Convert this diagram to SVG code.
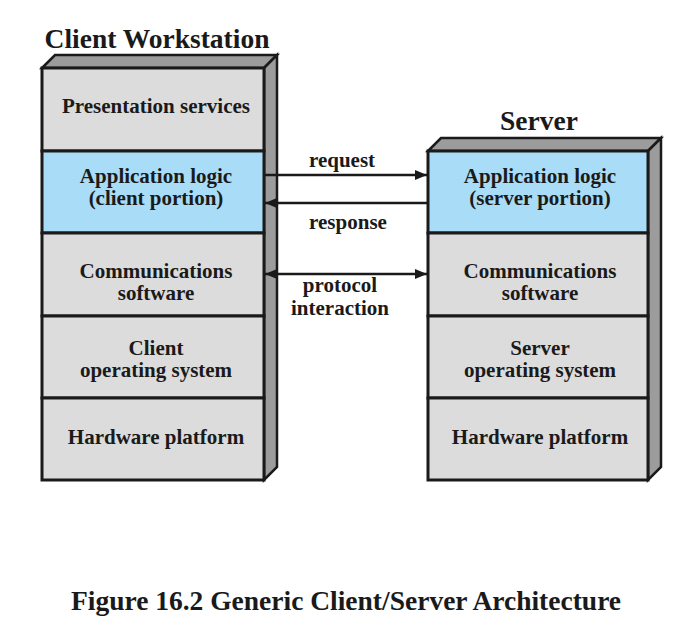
<svg xmlns="http://www.w3.org/2000/svg" width="690" height="623" viewBox="0 0 690 623">
<defs>
<style>
text{font-family:"Liberation Serif","Times New Roman",serif;font-weight:bold;fill:#1a1a1a;text-anchor:middle}
.lbl{font-size:21px}
.ttl{font-size:27.5px}
.cap{font-size:27.5px}
.gray{fill:#dcdcdc;stroke:#1a1a1a;stroke-width:3}
.blue{fill:#a9dcf6;stroke:#1a1a1a;stroke-width:3}
.side{fill:#9c9c9c;stroke:#1a1a1a;stroke-width:2.5;stroke-linejoin:miter}
.conn{stroke:#1a1a1a;stroke-width:2.5;fill:none}
</style>
<marker id="ah" viewBox="0 0 12 10" refX="12" refY="5" markerWidth="12" markerHeight="10" markerUnits="userSpaceOnUse" orient="auto-start-reverse">
<path d="M0,0 L12,5 L0,10 Z" fill="#1a1a1a"/>
</marker>
</defs>
<rect width="690" height="623" fill="#fff"/>

<text class="ttl" x="157" y="48">Client Workstation</text>
<text class="ttl" x="539" y="130">Server</text>

<g id="client">
<polygon class="side" points="42,68 55,55 277,55 264,68"/>
<polygon class="side" points="264,68 277,55 277,467 264,480"/>
<g id="c-presentation"><rect class="gray" x="42" y="68" width="222" height="83"/><text class="lbl" x="156" y="113">Presentation services</text></g>
<g id="c-app"><rect class="blue" x="42" y="151" width="222" height="82"/><text class="lbl" x="156" y="183">Application logic</text><text class="lbl" x="156" y="205">(client portion)</text></g>
<g id="c-comm"><rect class="gray" x="42" y="233" width="222" height="83"/><text class="lbl" x="156" y="278">Communications</text><text class="lbl" x="156" y="300">software</text></g>
<g id="c-os"><rect class="gray" x="42" y="316" width="222" height="82"/><text class="lbl" x="156" y="355">Client</text><text class="lbl" x="156" y="377">operating system</text></g>
<g id="c-hw"><rect class="gray" x="42" y="398" width="222" height="82"/><text class="lbl" x="156" y="444">Hardware platform</text></g>
</g>

<g id="server">
<polygon class="side" points="428,151 441,138 661,138 648,151"/>
<polygon class="side" points="648,151 661,138 661,467 648,480"/>
<g id="s-app"><rect class="blue" x="428" y="151" width="220" height="82"/><text class="lbl" x="540" y="183">Application logic</text><text class="lbl" x="540" y="205">(server portion)</text></g>
<g id="s-comm"><rect class="gray" x="428" y="233" width="220" height="83"/><text class="lbl" x="540" y="278">Communications</text><text class="lbl" x="540" y="300">software</text></g>
<g id="s-os"><rect class="gray" x="428" y="316" width="220" height="82"/><text class="lbl" x="540" y="355">Server</text><text class="lbl" x="540" y="377">operating system</text></g>
<g id="s-hw"><rect class="gray" x="428" y="398" width="220" height="82"/><text class="lbl" x="540" y="444">Hardware platform</text></g>
</g>

<g id="connectors">
<line class="conn" x1="265" y1="175" x2="427" y2="175" marker-end="url(#ah)"/>
<line class="conn" x1="427" y1="203" x2="265" y2="203" marker-end="url(#ah)"/>
<line class="conn" x1="265" y1="274" x2="427" y2="274" marker-start="url(#ah)" marker-end="url(#ah)"/>
<text class="lbl" x="342" y="167">request</text>
<text class="lbl" x="348" y="229">response</text>
<text class="lbl" x="340" y="292">protocol</text>
<text class="lbl" x="340" y="315">interaction</text>
</g>

<text class="cap" x="346" y="610">Figure 16.2 Generic Client/Server Architecture</text>
</svg>
